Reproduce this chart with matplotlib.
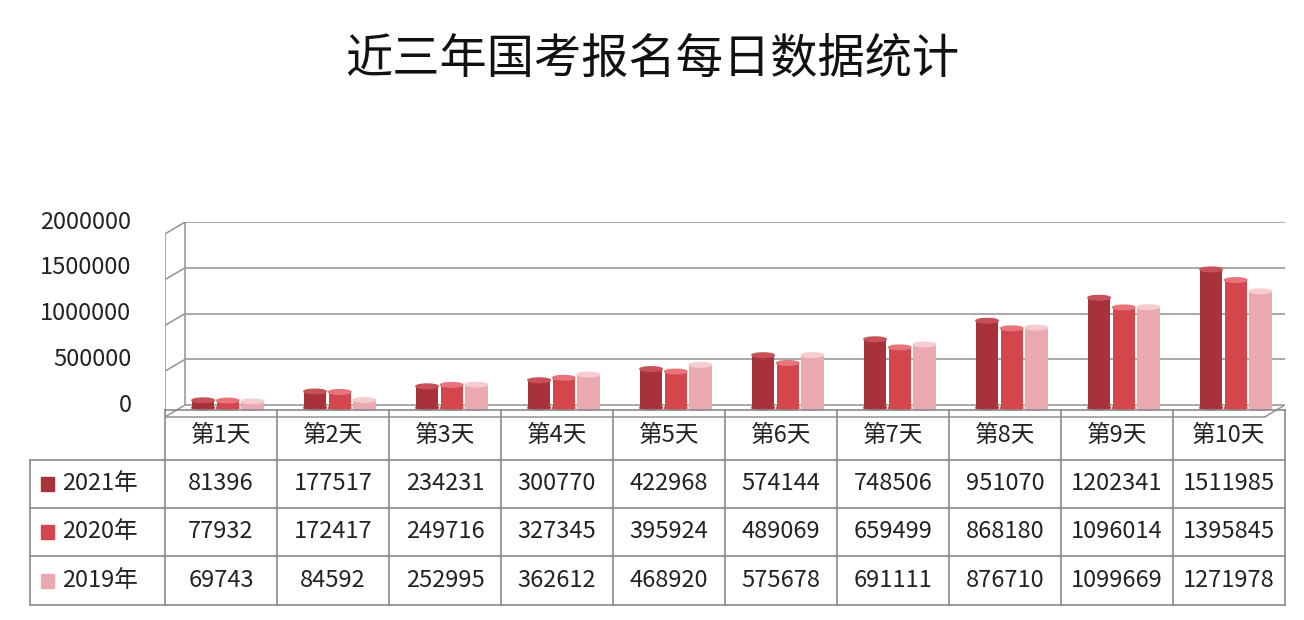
import matplotlib.pyplot as plt
import numpy as np
from matplotlib.patches import Ellipse, Rectangle

plt.rcParams['font.family'] = ['Noto Sans CJK SC', 'DejaVu Sans']

days = ['第1天', '第2天', '第3天', '第4天', '第5天', '第6天', '第7天', '第8天', '第9天', '第10天']
years = ['2021年', '2020年', '2019年']
v2021 = [81396, 177517, 234231, 300770, 422968, 574144, 748506, 951070, 1202341, 1511985]
v2020 = [77932, 172417, 249716, 327345, 395924, 489069, 659499, 868180, 1096014, 1395845]
v2019 = [69743, 84592, 252995, 362612, 468920, 575678, 691111, 876710, 1099669, 1271978]
series = [v2021, v2020, v2019]
colors = ['#a8323a', '#d5454e', '#e9a9ae']
tops = ['#c85058', '#e8737a', '#f5cdd0']
yticks = [0, 500000, 1000000, 1500000, 2000000]

W, H = 1304, 620
fig = plt.figure(figsize=(W / 100, H / 100), dpi=100)

# bar axes: x 165..1285 px, value 0 at y=405 px, 2e6 at y=222 px
scale = 183 / 2000000
ymin = -140000
bottom_px = 405 + (-ymin) * scale
ax = fig.add_axes([165 / W, (H - bottom_px) / H, 1120 / W, (bottom_px - 222) / H])
ax.set_xlim(-0.5, 9.5)
ax.set_ylim(ymin, 2000000)
ax.axis('off')

skew = 130000
x_back = -0.32
for t in yticks:
    ax.plot([x_back, 9.5], [t, t], color='#9a9a9a', lw=1.2, zorder=1)
    ax.plot([-0.5, x_back], [t - skew, t], color='#9a9a9a', lw=1.2, zorder=1)
    ax.text(-0.8, t, f'{t}', ha='right', va='center', fontsize=17, color='#222222')
ax.plot([-0.5, -0.5], [-skew, 2000000 - skew], color='#9a9a9a', lw=1.2)
ax.plot([x_back, x_back], [0, 2000000], color='#9a9a9a', lw=1.2)
ax.plot([-0.5, 9.32], [-skew, -skew], color='#9a9a9a', lw=1.2)
ax.plot([9.32, 9.5], [-skew, 0], color='#9a9a9a', lw=1.2)

bw = 0.2
offsets = [-0.22, 0.0, 0.22]
cap = 50000
base = -30000
for s, vals in enumerate(series):
    x = np.arange(len(days)) + offsets[s] + 0.06
    ax.bar(x, vals, width=bw, bottom=base, color=colors[s], edgecolor='none', zorder=3 + s)
    for xi, v in zip(x, vals):
        ax.add_patch(Ellipse((xi, v + base), bw, cap, color=tops[s], zorder=3 + s))
        ax.add_patch(Ellipse((xi, base), bw, cap, color=colors[s], zorder=3 + s))

fig.text(0.5, 1 - 60 / H, '近三年国考报名每日数据统计', ha='center', va='center',
         fontsize=34, color='#111111')

# data table overlay in pixel coords
tb = fig.add_axes([0, 0, 1, 1])
tb.set_xlim(0, W)
tb.set_ylim(H, 0)
tb.axis('off')
rows_y = [410, 460, 508, 556, 605]
col_x = [30] + [165 + 112 * i for i in range(11)]
lc = '#8a8a8a'
for i, y in enumerate(rows_y):
    tb.plot([165 if i == 0 else 30, 1285], [y, y], color=lc, lw=1.2)
for j, x in enumerate(col_x):
    tb.plot([x, x], [rows_y[1] if j == 0 else rows_y[0], rows_y[-1]], color=lc, lw=1.2)
for i, d in enumerate(days):
    tb.text(col_x[i + 1] + 56, (rows_y[0] + rows_y[1]) / 2, d, ha='center', va='center',
            fontsize=17, color='#222222')
for r, (yr, vals) in enumerate(zip(years, series)):
    yc = (rows_y[r + 1] + rows_y[r + 2]) / 2
    tb.add_patch(Rectangle((41, yc - 7), 13, 14, color=colors[r]))
    tb.text(62, yc, yr, ha='left', va='center', fontsize=17, color='#222222')
    for i, v in enumerate(vals):
        tb.text(col_x[i + 1] + 56, yc, f'{v}', ha='center', va='center',
                fontsize=17, color='#222222')

fig.savefig('out.png', dpi=100)
